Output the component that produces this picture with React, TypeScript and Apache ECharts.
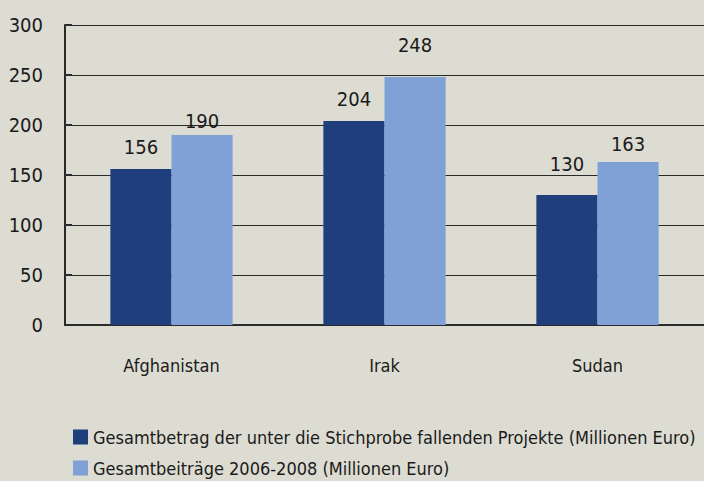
import React, { useEffect, useRef } from "react";
import * as echarts from "echarts";

const categories = ["Afghanistan", "Irak", "Sudan"];
const seriesNames = [
  "Gesamtbetrag der unter die Stichprobe fallenden Projekte (Millionen Euro)",
  "Gesamtbeiträge 2006-2008 (Millionen Euro)",
];
const sampleValues = [156, 204, 130];
const totalValues = [190, 248, 163];
const yMin = 0;
const yMax = 300;
const yInterval = 50;

// label gaps above bars (styling only, as in the hand-placed original labels)
const sampleLabelGaps = [12, 12, 21];
const totalLabelGaps = [4, 22, 8];

const FONT = "'Liberation Sans Narrow', 'DejaVu Sans Condensed', sans-serif";
const TEXT = "#1a1a1a";
const BG = "#dddcd2";
const DARK = "#1f3f7c";
const LIGHT = "#7fa1d6";
const LINE = "#2a2a2a";

const withGaps = (values: number[], gaps: number[]) =>
  values.map((v, i) => ({ value: v, label: { distance: gaps[i] } }));

export default function App() {
  const ref = useRef<HTMLDivElement>(null);
  useEffect(() => {
    document.body.style.margin = "0";
    const chart = echarts.init(ref.current!, undefined, { renderer: "svg" });
    const labelStyle = { show: true, position: "top", fontFamily: FONT, fontSize: 20, color: TEXT };
    chart.setOption({
      animation: false,
      backgroundColor: BG,
      textStyle: { fontFamily: FONT, color: TEXT },
      grid: { left: 65, top: 25, width: 648, height: 300, containLabel: false },
      legend: {
        orient: "vertical",
        left: 73,
        top: 427,
        padding: 0,
        itemWidth: 15,
        itemHeight: 15,
        itemGap: 11,
        icon: "rect",
        textStyle: { fontFamily: FONT, fontSize: 18, color: TEXT, lineHeight: 20 },
        data: seriesNames,
      },
      xAxis: {
        type: "category",
        data: categories,
        axisLine: { lineStyle: { color: LINE, width: 2 } },
        axisTick: { inside: true, length: 7, lineStyle: { color: LINE, width: 2 } },
        axisLabel: { fontFamily: FONT, fontSize: 18, color: TEXT, margin: 31 },
        splitLine: { show: false },
      },
      yAxis: {
        type: "value",
        min: yMin,
        max: yMax,
        interval: yInterval,
        axisLine: { show: true, lineStyle: { color: LINE, width: 2 } },
        axisTick: { show: true, inside: true, length: 7, lineStyle: { color: LINE, width: 2 } },
        axisLabel: { fontFamily: FONT, fontSize: 20, color: TEXT, margin: 22 },
        splitLine: { show: true, lineStyle: { color: LINE, width: 1 } },
      },
      series: [
        {
          name: seriesNames[0],
          type: "bar",
          data: withGaps(sampleValues, sampleLabelGaps),
          barGap: "0%",
          barCategoryGap: "42.6%",
          itemStyle: { color: DARK },
          label: labelStyle,
        },
        {
          name: seriesNames[1],
          type: "bar",
          data: withGaps(totalValues, totalLabelGaps),
          barGap: "0%",
          barCategoryGap: "42.6%",
          itemStyle: { color: LIGHT },
          label: labelStyle,
        },
      ],
    });
    return () => chart.dispose();
  }, []);
  return <div ref={ref} style={{ position: "absolute", left: 0, top: 0, width: 704, height: 481 }} />;
}
